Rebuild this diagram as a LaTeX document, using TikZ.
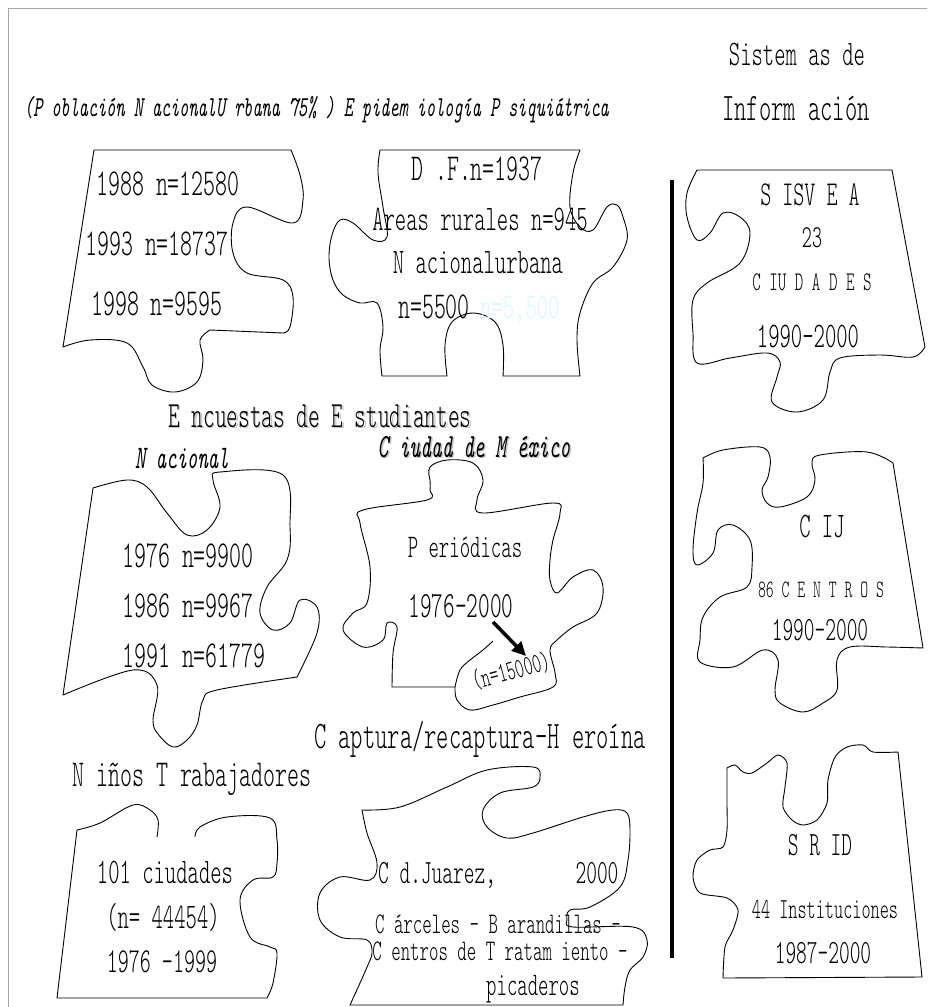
\documentclass[tikz,border=0pt]{standalone}
\usepackage{fontspec}
\usetikzlibrary{arrows.meta}
\newfontfamily\pzl{lmmonolt10-regular.otf}[FakeStretch=0.6,ItalicFont=lmmono10-italic.otf]
\newcommand\fsz[1]{\fontsize{#1}{#1}\selectfont}
\tikzset{pz/.style={draw,line width=0.9pt,line join=round},
  lab/.style={font=\pzl,inner sep=0pt,anchor=base},
  shd/.style={lab,text=gray!45}}
\definecolor{pale}{RGB}{215,250,250}
\begin{document}
\begin{tikzpicture}[x=1pt,y=-1pt,>=Stealth]
\useasboundingbox (0,0) rectangle (927,1007);
\clip (0,0) rectangle (927,1007);
\draw[gray!70,line width=1pt](8,8) rectangle (940,1020);
\draw[line width=4.5pt](672,180)--(672,958);
% headings
\node[lab] (sis) at (797,65) {\fsz{36}Sistem as de};
\node[lab] (inf) at (796,120) {\fsz{39}Inform ación};
\node[lab,anchor=base west] (epi) at (24,116) {\fsz{29}\itshape(P oblación N acionalU rbana 75\% ) E pidem iología P siquiátrica};
\node[shd] at (321.5,428.5) {\fsz{37}E ncuestas de E studiantes};
\node[lab] (enc) at (320,427) {\fsz{37}E ncuestas de E studiantes};
\node[lab] (nac) at (182,468) {\fsz{33}\itshape N acional};
\node[shd] at (475.5,458.5) {\fsz{34}\itshape C iudad de M éxico};
\node[lab] (cdm) at (474,457) {\fsz{34}\itshape C iudad de M éxico};
\node[lab] (cap) at (480,748) {\fsz{39}C aptura/recaptura-H eroína};
\node[lab] (nin) at (192,786) {\fsz{38}N iños T rabajadores};
% pieces
\draw[pz](94,150)--(291,150)--plot[smooth,tension=.6] coordinates {(291,150) (300,175) (303,200) (293,223) (247,207) (233,223) (233,253) (247,273) (283,280) (293,297) (290,327) (283,333)}
  --(210,330)--plot[smooth,tension=.6] coordinates {(210,330) (200,340) (203,360) (197,382) (175,392) (152,385) (143,367) (127,343) (90,340) (63,347)}--cycle;
\draw[pz](380,150)--(580,150)--plot[smooth,tension=.6] coordinates {(580,150) (573,173) (570,207) (580,227) (593,230) (607,207) (617,205) (623,217) (627,240) (613,267) (593,283) (580,313) (577,340) (580,376)}
  --(503,376)--plot[smooth,tension=.6] coordinates {(503,376) (503,345) (495,322) (473,313) (452,322) (445,345) (447,376)}
  --(382,376)--plot[smooth,tension=.6] coordinates {(382,376) (380,350) (383,327) (377,303) (360,303) (343,295) (333,280) (329,258) (332,235) (340,220) (353,223) (373,240) (387,237) (383,207) (378,173) (380,150)}--cycle;
\draw[pz](697,170)--(892,170)--(925,347)--plot[smooth,tension=.6] coordinates {(925,347) (913,357) (880,355) (840,358) (830,372) (823,400) (797,412) (772,402) (777,377) (780,362) (767,353) (730,358) (697,363) (693,333) (693,300) (707,283) (740,263) (750,233) (740,217) (723,213) (710,233) (697,240) (687,217) (687,193) (697,170)}--cycle;
\draw[pz](63,695)--(93,488)--plot[smooth,tension=.6] coordinates {(93,488) (127,480) (147,487) (167,513) (187,535) (207,530) (220,507) (213,480) (220,472) (283,475) (290,527) (287,560) (267,587) (260,613) (273,630) (290,623) (300,600) (317,607) (317,633) (297,677)}
  --plot[smooth,tension=.6] coordinates {(297,677) (217,690) (203,700) (197,725) (187,740) (173,747) (158,734) (153,720) (157,685) (133,670) (63,695)}--cycle;
\draw[pz]plot[smooth,tension=.6] coordinates {(430,480) (430,467) (447,460) (473,463) (483,480) (477,500) (483,513) (553,503) (560,513) (553,540) (550,560) (550,580) (557,593) (573,577) (593,570) (603,587) (597,613) (573,627) (557,640) (550,650) (555,673) (553,687) (520,697) (493,705) (470,710) (457,700) (455,687)}
  --(392,687)--plot[smooth,tension=.6] coordinates {(392,687) (393,653) (397,627) (387,623) (383,640) (363,647) (343,630) (353,613) (367,603) (370,567) (360,523) (363,510) (427,500) (430,490) (430,480)}--cycle;
\draw[pz]plot[smooth,tension=.6] coordinates {(455,687) (460,670) (470,660) (483,650) (493,641)};
\draw[pz](703,458)--plot[smooth,tension=.6] coordinates {(703,458) (723,450) (760,447) (770,457) (768,477) (762,490) (767,503) (780,507) (807,497) (815,480) (812,463) (820,455) (867,452) (893,463)}
  --(923,648)--plot[smooth,tension=.6] coordinates {(923,648) (887,647) (850,647) (837,660) (837,690) (823,703) (803,712) (780,703) (775,690) (778,660) (763,650) (733,667) (700,662) (700,640) (703,617) (720,597) (747,587) (752,567) (750,540) (733,525) (718,530) (713,553) (697,565) (693,550) (697,513) (703,483) (703,458)}--cycle;
\draw[pz]plot[smooth,tension=.6] coordinates {(195,837) (200,827) (227,817) (270,818) (277,840) (277,863) (273,877) (253,880) (240,900) (250,937) (270,947) (277,953) (273,983) (267,998)}
  --(57,998)--(77,830)--plot[smooth,tension=.6] coordinates {(77,830) (100,823) (133,805) (150,810) (158,820) (157,837)};
\draw[pz]plot[smooth,tension=.6] coordinates {(362,810) (400,807) (447,787) (487,770) (533,767) (540,777) (533,787) (500,793) (483,810) (487,827) (507,838) (533,833) (583,817) (613,810) (627,813) (630,830) (628,860) (620,887) (590,907) (570,910) (567,920) (573,927) (633,927) (647,940) (643,957) (630,970) (625,987) (623,1005)}
  --(350,1005)--plot[smooth,tension=.6] coordinates {(350,1005) (360,983) (367,967) (372,953) (367,940) (340,937) (320,920) (320,893) (340,877) (370,880) (377,863) (367,833) (362,810)}--cycle;
\draw[pz]plot[smooth,tension=.5] coordinates {(727,768) (735,765) (743,772) (752,773) (767,763) (778,755) (787,763) (785,787) (783,807) (792,820) (803,825) (817,820) (827,803) (828,780) (835,757) (847,747) (863,745) (873,752) (898,752)}
  --(922,977)--(723,978)--plot[smooth,tension=.5] coordinates {(723,978) (725,947) (733,930) (738,910) (727,898) (700,893) (693,877) (697,860) (710,850) (723,847) (727,830) (727,803) (727,768)}--cycle;
% texts in pieces
\node[lab] (a1) at (168,195) {\fsz{38}1988 n=12580};
\node[lab] (a2) at (157,255) {\fsz{38}1993 n=18737};
\node[lab] (a3) at (157,315) {\fsz{38}1998 n=9595};
\node[lab] (b1) at (477,180) {\fsz{38}D .F.n=1937};
\node[lab] (b2) at (480,230) {\fsz{36}Areas rurales n=945};
\node[lab] (b3) at (478,273) {\fsz{36}N acionalurbana};
\node[lab] (b4) at (434,318) {\fsz{38}n=5500};
\node[lab,anchor=base west,text=pale] (b5) at (480,318) {\fsz{36}n=5,500};
\node[lab] (c1) at (810,205) {\fsz{35}S ISV E A};
\node[lab] (c2) at (812,247) {\fsz{32}23};
\node[lab] (c3) at (812,290) {\fsz{27}C IU D A D E S};
\node[lab] (c4) at (808,347) {\fsz{36}1990-2000};
\node[lab,anchor=base west] (d1) at (122,567) {\fsz{38}1976 n=9900};
\node[lab,anchor=base west] (d2) at (122,617) {\fsz{38}1986 n=9967};
\node[lab,anchor=base west] (d3) at (122,667) {\fsz{38}1991 n=61779};
\node[lab] (e1) at (465,557) {\fsz{33}P eriódicas};
\node[lab] (e2) at (461,617) {\fsz{37}1976-2000};
\node[lab,anchor=center,rotate=15] (e3) at (511,671) {\fsz{28}(n=15000)};
\coordinate (ar-s) at (493,622);
\coordinate (ar-e) at (526,656);
\draw[line width=3.5pt,-{Triangle[length=14pt,width=13pt]}](ar-s)--(ar-e);
\node[lab] (f1) at (822,537) {\fsz{36}C IJ};
\node[lab] (f2) at (821,597) {\fsz{25}86 C E N T R O S};
\node[lab] (f3) at (820,640) {\fsz{34}1990-2000};
\node[lab] (g1) at (165,883) {\fsz{36}101 ciudades};
\node[lab] (g2) at (163,928) {\fsz{36}(n= 44454)};
\node[lab] (g3) at (162,972) {\fsz{35}1976 -1999};
\node[lab,anchor=base west] (h1) at (378,883) {\fsz{34}C d.Juarez,};
\node[lab] (h2) at (597,883) {\fsz{34}2000};
\node[lab] (h3) at (498,933) {\fsz{30}C árceles - B arandillas -};
\node[lab] (h4) at (500,960) {\fsz{30}C entros de T ratam iento -};
\node[lab] (h5) at (533,995) {\fsz{33}picaderos};
\node[lab] (k1) at (820,855) {\fsz{34}S R ID};
\node[lab] (k2) at (825,918) {\fsz{29}44 Instituciones};
\node[lab] (k3) at (823,963) {\fsz{34}1987-2000};
\end{tikzpicture}
\end{document}
